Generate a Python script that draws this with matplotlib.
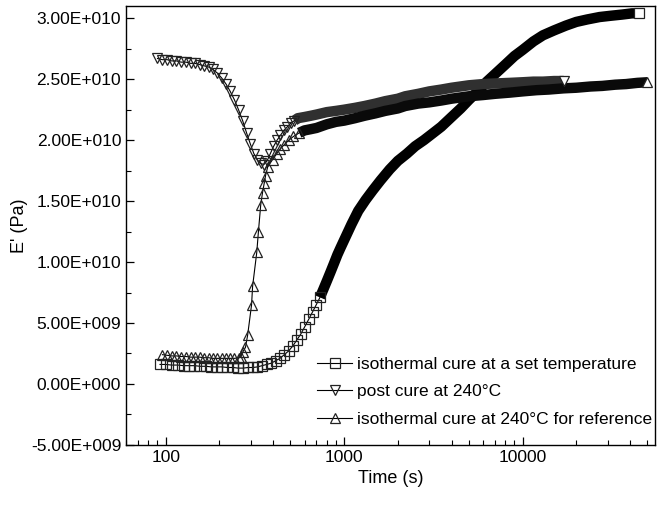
import numpy as np
import matplotlib
matplotlib.use('Agg')
import matplotlib.pyplot as plt
from matplotlib.ticker import FuncFormatter, MultipleLocator, LogLocator, NullFormatter

plt.rcParams['font.family'] = ['Liberation Sans', 'DejaVu Sans']

# isothermal cure at a set temperature (squares)
t_sq = [93, 100, 108, 117, 126, 135, 145, 156, 168, 180, 193, 207, 222, 238, 255,
        272, 290, 308, 327, 347, 368, 390, 413, 437, 462, 488, 515, 543, 572, 602,
        633, 665, 698, 732, 767, 803, 840, 878, 917, 957, 1000, 1100, 1200, 1320,
        1450, 1600, 1800, 2000, 2250, 2500, 2800, 3100, 3500, 4000, 4500, 5000,
        5600, 6300, 7100, 8000, 9000, 10000, 11500, 13000, 15000, 17500, 20000,
        23000, 27000, 31000, 36000, 41000, 45000]
e_sq = [1.6, 1.6, 1.55, 1.55, 1.5, 1.5, 1.5, 1.45, 1.45, 1.4, 1.4, 1.4, 1.35, 1.35, 1.3,
        1.3, 1.35, 1.35, 1.4, 1.5, 1.6, 1.7, 1.9, 2.1, 2.4, 2.7, 3.1, 3.6, 4.1, 4.7,
        5.3, 5.9, 6.5, 7.1, 7.8, 8.5, 9.2, 9.9, 10.6, 11.2, 11.8, 13.1, 14.2, 15.1,
        15.9, 16.7, 17.6, 18.3, 18.9, 19.5, 20.0, 20.5, 21.1, 21.9, 22.6, 23.3,
        24.0, 24.8, 25.5, 26.2, 26.9, 27.4, 28.1, 28.6, 29.0, 29.4, 29.7,
        29.9, 30.1, 30.2, 30.3, 30.4, 30.4]

# post cure at 240 C (down triangles)
t_dn = [90, 96, 102, 108, 115, 122, 130, 138, 146, 155, 164, 174, 184, 195, 206,
        218, 230, 243, 256, 270, 284, 298, 312, 326, 340, 355, 370, 386, 403, 421,
        440, 460, 481, 503, 526, 550, 600, 650, 700, 800, 900, 1000, 1150, 1300,
        1500, 1700, 2000, 2200, 2600, 3000, 3500, 4000, 5000, 6000, 7000, 8500,
        10000, 11500, 13000, 15000, 17000]
e_dn = [26.7, 26.6, 26.6, 26.5, 26.5, 26.4, 26.4, 26.3, 26.3, 26.2, 26.1, 26.0, 25.8, 25.5, 25.1,
        24.6, 24.0, 23.3, 22.5, 21.6, 20.6, 19.7, 18.9, 18.4, 18.1, 18.0, 18.3, 18.9, 19.5, 20.0,
        20.4, 20.8, 21.1, 21.4, 21.6, 21.8, 21.9, 22.0, 22.1, 22.3, 22.4, 22.5, 22.65, 22.8,
        23.0, 23.2, 23.4, 23.6, 23.8, 24.0, 24.15, 24.3, 24.5, 24.6, 24.65, 24.7,
        24.75, 24.8, 24.8, 24.85, 24.85]

# isothermal cure at 240 C for reference (up triangles)
t_up = [96, 102, 108, 115, 122, 130, 138, 146, 155, 164, 174, 184, 195, 206, 218,
        230, 243, 256, 263, 270, 280, 288, 303, 307, 324, 331, 341, 349, 357, 363,
        373, 397, 420, 440, 460, 490, 520, 560, 600, 650, 700, 800, 900, 1000, 1150,
        1300, 1500, 1700, 2000, 2200, 2600, 3000, 3500, 4000, 5000, 6000, 7000, 8500,
        10000, 12000, 14000, 17000, 20000, 24000, 28000, 33000, 38000, 44000, 50000]
e_up = [2.4, 2.35, 2.3, 2.3, 2.25, 2.25, 2.2, 2.2, 2.2, 2.15, 2.15, 2.1, 2.1, 2.1, 2.1,
        2.1, 2.1, 2.15, 2.2, 2.6, 3.0, 4.0, 6.5, 8.0, 10.8, 12.5, 14.7, 15.7, 16.5, 17.1,
        17.8, 18.4, 18.9, 19.3, 19.6, 20.0, 20.3, 20.6, 20.8, 20.9, 21.0, 21.3, 21.5, 21.6, 21.8,
        22.0, 22.2, 22.4, 22.6, 22.8, 23.0, 23.1, 23.25, 23.4, 23.6, 23.7, 23.8, 23.9,
        24.0, 24.1, 24.15, 24.25, 24.3, 24.4, 24.45, 24.55, 24.6, 24.7, 24.75]

labels = ['isothermal cure at a set temperature',
          'post cure at 240°C',
          'isothermal cure at 240°C for reference']

t_sq, e_sq = np.array(t_sq), np.array(e_sq) * 1e9
t_dn, e_dn = np.array(t_dn), np.array(e_dn) * 1e9
t_up, e_up = np.array(t_up), np.array(e_up) * 1e9


def sci_fmt(v, pos):
    if v == 0:
        return '0.00E+000'
    exp = int(np.floor(np.log10(abs(v))))
    m = v / 10 ** exp
    sign = '+' if exp >= 0 else '-'
    return f'{m:.2f}E{sign}{abs(exp):03d}'


fig = plt.figure(figsize=(6.6, 5.05), dpi=100)
ax = fig.add_axes([0.191, 0.119, 0.801, 0.869])

# where the markers pile up the curve looks like a solid band
series = [(t_sq, e_sq, 's', 'black', 700, 7.5),
          (t_dn, e_dn, 'v', '#303030', 520, 7.5),
          (t_up, e_up, '^', '#0a0a0a', 560, 7.5)]

handles = []
for (t, e, mk, col, t_dense, bw), lab in zip(series, labels):
    d = t >= t_dense
    s = ~d
    s[np.argmax(d)] = True
    ax.plot(t[d], e[d], '-', color=col, lw=bw, solid_capstyle='butt', zorder=2)
    ax.plot(t[s], e[s], '-', color='black', lw=0.8, marker=mk, ms=7.5,
            mfc='none', mec='#222222', mew=0.9, zorder=3)
    ax.plot(t[-1:], e[-1:], ls='none', marker=mk, ms=7.5, mfc='white',
            mec='#222222', mew=0.9, zorder=4)
    h, = ax.plot([], [], '-', color='black', lw=0.8, marker=mk, ms=7,
                 mfc='none', mec='#222222', mew=0.9, label=lab)
    handles.append(h)

ax.set_xscale('log')
ax.set_xlim(60, 55000)
ax.set_ylim(-5e9, 3.1e10)

ax.yaxis.set_major_locator(MultipleLocator(5e9))
ax.yaxis.set_minor_locator(MultipleLocator(2.5e9))
ax.yaxis.set_major_formatter(FuncFormatter(sci_fmt))
ax.xaxis.set_major_locator(LogLocator(base=10))
ax.xaxis.set_minor_locator(LogLocator(base=10, subs=np.arange(2, 10)))
ax.xaxis.set_minor_formatter(NullFormatter())
ax.xaxis.set_major_formatter(FuncFormatter(lambda v, p: f'{int(round(v))}'))

ax.tick_params(which='both', direction='in', top=False, right=False, labelsize=12.5)
ax.tick_params(which='major', length=6, width=0.9)
ax.tick_params(which='minor', length=3.5, width=0.8)
for sp in ax.spines.values():
    sp.set_linewidth(1.0)

ax.set_xlabel('Time (s)', fontsize=13)
ax.set_ylabel("E' (Pa)", fontsize=13, labelpad=2)

ax.legend(handles=handles, loc='lower right', frameon=False, fontsize=12.5,
          handlelength=2.0, handletextpad=0.3, labelspacing=0.72,
          bbox_to_anchor=(1.015, 0.017), borderaxespad=0.2)

fig.savefig('out.png', dpi=100)
